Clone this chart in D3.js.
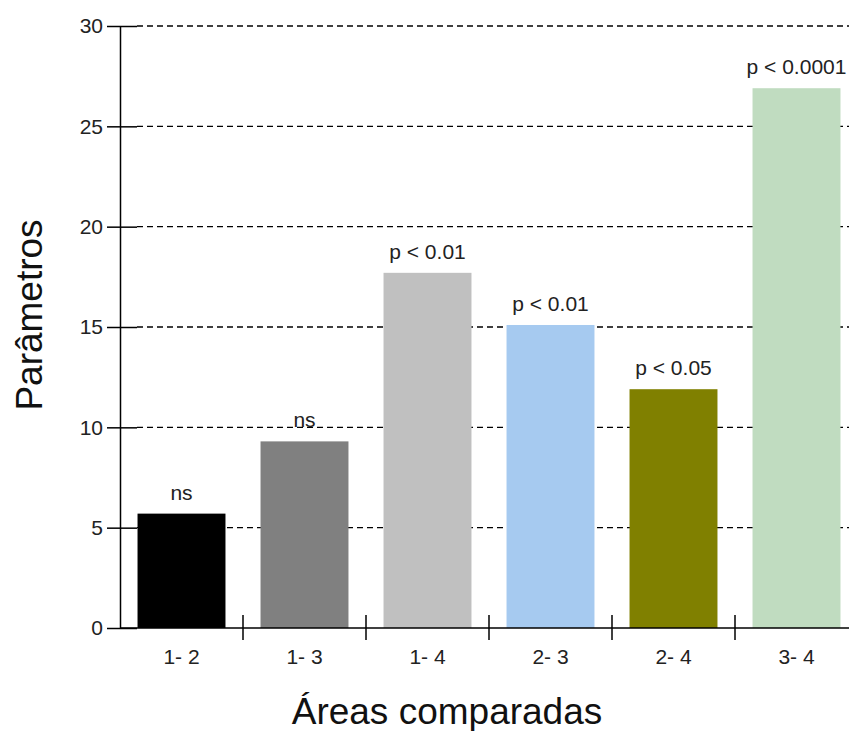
<!DOCTYPE html>
<html>
<head>
<meta charset="utf-8">
<script src="https://cdn.jsdelivr.net/npm/d3@7"></script>
<style>
  body { margin: 0; background: #fff; overflow: hidden; }
  svg { display: block; font-family: "Liberation Sans", Arial, sans-serif; }
</style>
</head>
<body>
<div id="vis"></div>
<script>
// chart data
var categories = ["1- 2", "1- 3", "1- 4", "2- 3", "2- 4", "3- 4"];
var values = [5.7, 9.3, 17.7, 15.1, 11.9, 26.9];
var labels = ["ns", "ns", "p < 0.01", "p < 0.01", "p < 0.05", "p < 0.0001"];
var colors = ["#000000", "#808080", "#c0c0c0", "#a6caf0", "#808000", "#c0dcc0"];
var yTicks = [0, 5, 10, 15, 20, 25, 30];

var width = 849,
    height = 731,
    margin = { top: 26, left: 120 },
    drawWidth = 738,   // plot runs a little past the right edge, like the original
    drawHeight = 628 - margin.top;

var svg = d3.select("#vis").append("svg")
    .attr("width", width)
    .attr("height", height);

var g = svg.append("g")
    .attr("transform", "translate(" + margin.left + "," + margin.top + ")");

var x = d3.scaleBand()
    .domain(categories)
    .range([0, drawWidth])
    .paddingInner(0.285)
    .paddingOuter(0.1425);

var y = d3.scaleLinear()
    .domain([0, 30])
    .range([drawHeight, 0]);

// dashed grid lines
g.selectAll(".grid")
    .data(yTicks.filter(function(d) { return d > 0; }))
    .enter()
    .append("line")
    .attr("class", "grid")
    .attr("x1", 17)
    .attr("x2", drawWidth)
    .attr("y1", function(d) { return y(d); })
    .attr("y2", function(d) { return y(d); })
    .attr("stroke", "#000")
    .attr("stroke-width", 1.3)
    .attr("stroke-dasharray", "6,4");

// bars
g.selectAll(".bar")
    .data(values)
    .enter()
    .append("rect")
    .attr("class", "bar")
    .attr("x", function(d, i) { return x(categories[i]); })
    .attr("y", function(d) { return y(d); })
    .attr("width", x.bandwidth())
    .attr("height", function(d) { return drawHeight - y(d); })
    .style("fill", function(d, i) { return colors[i]; });

// significance labels
g.selectAll(".label")
    .data(values)
    .enter()
    .append("text")
    .attr("class", "label")
    .attr("x", function(d, i) { return x(categories[i]) + x.bandwidth() / 2; })
    .attr("y", function(d) { return y(d) - 14; })
    .attr("text-anchor", "middle")
    .style("font-size", "21px")
    .style("fill", "#222")
    .text(function(d, i) { return labels[i]; });

// y axis
var yAxis = d3.axisLeft(y)
    .tickValues(yTicks)
    .tickSizeInner(13)
    .tickSizeOuter(0)
    .tickPadding(4);

var gy = g.append("g").attr("class", "y axis").call(yAxis);
gy.select(".domain").attr("stroke-width", 1.5);
gy.selectAll(".tick line").attr("x1", -13).attr("x2", 17).attr("stroke-width", 1.5);
gy.selectAll(".tick text")
    .attr("x", -17)
    .style("font-size", "21px")
    .style("fill", "#222")
    .style("font-family", "'Liberation Sans', Arial, sans-serif");

// x axis: ticks at band boundaries
var gx = g.append("g")
    .attr("class", "x axis")
    .attr("transform", "translate(0," + drawHeight + ")");

gx.append("line")
    .attr("x1", 0)
    .attr("x2", drawWidth)
    .attr("stroke", "#000")
    .attr("stroke-width", 1.5);

var step = x.step();
gx.selectAll(".xtick")
    .data(categories.slice(1))
    .enter()
    .append("line")
    .attr("class", "xtick")
    .attr("x1", function(d) { return x(d) - step * x.paddingInner() / 2; })
    .attr("x2", function(d) { return x(d) - step * x.paddingInner() / 2; })
    .attr("y1", -13)
    .attr("y2", 12)
    .attr("stroke", "#000")
    .attr("stroke-width", 1.5);

gx.selectAll(".xlabel")
    .data(categories)
    .enter()
    .append("text")
    .attr("class", "xlabel")
    .attr("x", function(d) { return x(d) + x.bandwidth() / 2; })
    .attr("y", 36)
    .attr("text-anchor", "middle")
    .style("font-size", "21px")
    .style("fill", "#222")
    .text(function(d) { return d; });

// axis titles
svg.append("text")
    .attr("transform", "translate(42,315) rotate(-90)")
    .attr("text-anchor", "middle")
    .style("font-size", "37px")
    .style("fill", "#111")
    .text("Parâmetros");

svg.append("text")
    .attr("x", 447)
    .attr("y", 724)
    .attr("text-anchor", "middle")
    .style("font-size", "37px")
    .style("fill", "#111")
    .text("Áreas comparadas");
</script>
</body>
</html>
